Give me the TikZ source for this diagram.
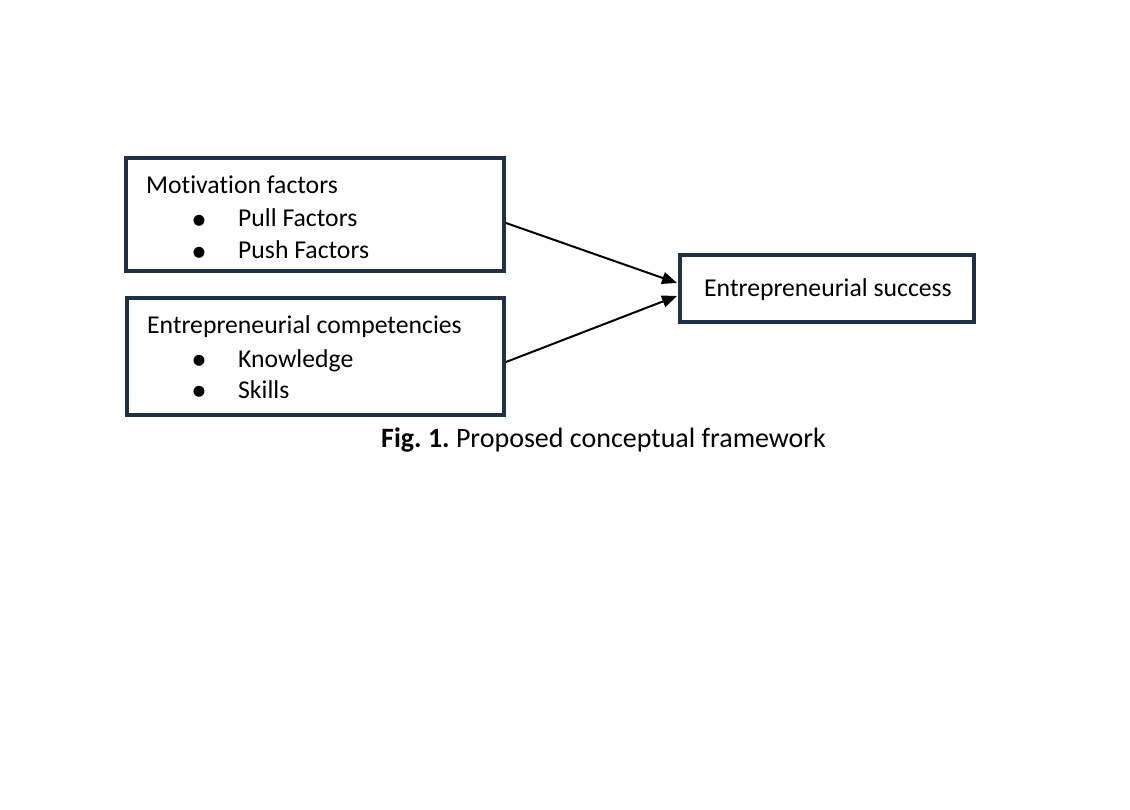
\documentclass[tikz,border=0pt]{standalone}
\usepackage{fontspec}
\setmainfont{Carlito}[Ligatures=NoCommon]
\usetikzlibrary{arrows.meta}
\definecolor{boxnavy}{RGB}{31,48,73}
\begin{document}
\frenchspacing
\begin{tikzpicture}[x=1pt,y=-1pt,
  frame/.style={draw=boxnavy,line width=4pt,inner sep=0pt,minimum width=#1},
  txt/.style={anchor=base west,inner sep=0pt,font=\fontsize{25.7}{30}\selectfont},
  bul/.style={anchor=base,inner sep=0pt,font=\fontsize{31}{34}\selectfont},
  captxt/.style={anchor=base west,inner sep=0pt,font=\fontsize{28}{32}\selectfont},
  conn/.style={line width=2pt,-{Triangle[length=15pt,width=12pt]}}]
\useasboundingbox (0,0) rectangle (1130,810);
\node[frame=378,minimum height=113pt] (b1) at (315,215) {};
\node[frame=377,minimum height=117pt] (b2) at (315.5,356.5) {};
\node[frame=294,minimum height=67pt] (b3) at (827,288.5) {};
\node[txt] (t1) at (146,194) {Motivation factors};
\node[bul] (d1) at (199,229.5) {•};
\node[txt] (t2) at (238,227) {Pull Factors};
\node[bul] (d2) at (199,261.5) {•};
\node[txt] (t3) at (238,259) {Push Factors};
\node[txt] (t4) at (147,334) {Entrepreneurial competencies};
\node[bul] (d3) at (199,369.5) {•};
\node[txt] (t5) at (238,367) {Knowledge};
\node[bul] (d4) at (199,400.5) {•};
\node[txt] (t6) at (238,398) {Skills};
\node[txt] (t7) at (704,297) {Entrepreneurial success};
\node[captxt] (cap) at (381,447) {\textbf{Fig. 1.} Proposed conceptual framework};
\draw[conn] ([yshift=-8pt]b1.east) -- ([yshift=5.5pt,xshift=-1pt]b3.west);
\draw[conn] ([yshift=-5.5pt]b2.east) -- ([yshift=-7.5pt,xshift=-1pt]b3.west);
\end{tikzpicture}
\end{document}
